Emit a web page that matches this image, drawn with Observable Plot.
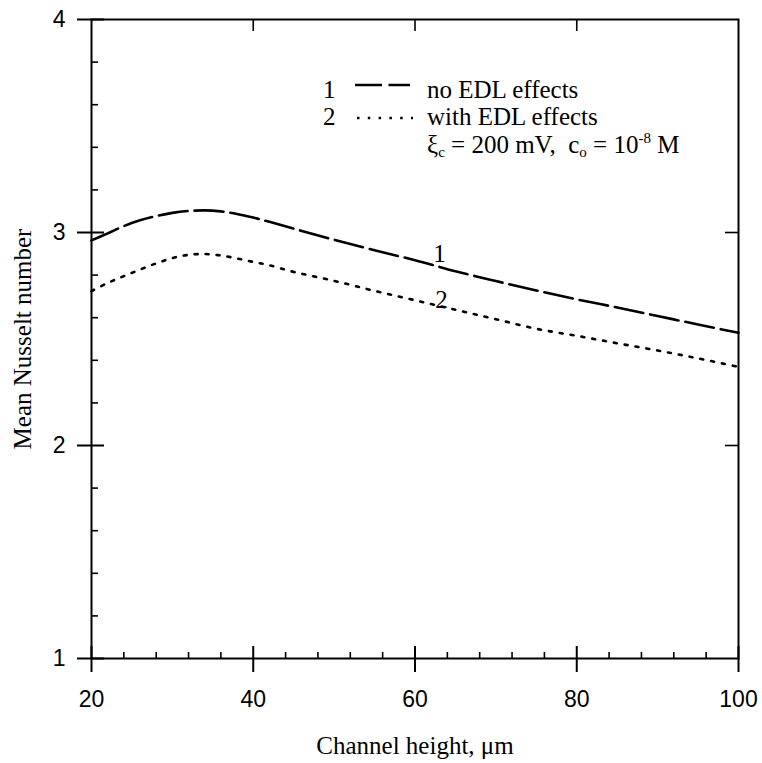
<!DOCTYPE html>
<html><head><meta charset="utf-8">
<script src="https://cdn.jsdelivr.net/npm/d3@7"></script>
<script src="https://cdn.jsdelivr.net/npm/@observablehq/plot@0.6"></script>
<style>
html,body{margin:0;padding:0;background:#fff;}
#wrap{position:relative;width:762px;height:763px;}
#legend{position:absolute;left:0;top:0;pointer-events:none;}
</style></head><body>
<div id="wrap"><div id="chart"></div></div>
<script>
// Channel height (µm)
const channelHeight = [20, 22, 24, 26, 28, 30, 32, 34, 36, 38, 40, 42, 45, 50, 55, 60, 65, 70, 75, 80, 85, 90, 95, 100];
// Curve 1: no EDL effects
const noEdl = [2.963, 2.996, 3.030, 3.057, 3.077, 3.092, 3.101, 3.104, 3.099, 3.087, 3.070, 3.050, 3.018, 2.966, 2.917, 2.870, 2.818, 2.772, 2.728, 2.686, 2.648, 2.608, 2.568, 2.529];
// Curve 2: with EDL effects
const withEdl = [2.725, 2.763, 2.795, 2.826, 2.855, 2.880, 2.895, 2.899, 2.892, 2.878, 2.862, 2.846, 2.815, 2.773, 2.726, 2.682, 2.637, 2.593, 2.548, 2.515, 2.480, 2.446, 2.409, 2.369];

const xMajorTicks = [20, 40, 60, 80, 100];
const xMinorTicks = [24, 28, 32, 36, 44, 48, 52, 56, 64, 68, 72, 76, 84, 88, 92, 96];
const xTopTicks = [40, 60, 80];
const yMajorTicks = [1, 2, 3, 4];
const yMinorTicks = [1.2, 1.4, 1.6, 1.8, 2.2, 2.4, 2.6, 2.8, 3.2, 3.4, 3.6, 3.8];
const yRightTicks = [2, 3];

const xLabel = "Channel height, \u03bcm";
const yLabel = "Mean Nusselt number";
const curveLabels = [{label: "1", series: noEdl, at: 65}, {label: "2", series: withEdl, at: 65}];

const W = 762, H = 763, mL = 91, mR = 24, mT = 19, mB = 105;
const innerW = W - mL - mR, innerH = H - mT - mB;
const sans = "'Liberation Sans', Arial, Helvetica, sans-serif";
const serif = "'Liberation Serif', 'Times New Roman', Times, serif";

const rows1 = channelHeight.map((h, i) => ({h, nu: noEdl[i]}));
const rows2 = channelHeight.map((h, i) => ({h, nu: withEdl[i]}));
const labelRows = curveLabels.map(c => ({label: c.label, h: c.at, nu: c.series[channelHeight.indexOf(c.at)]}));

const chart = Plot.plot({
  width: W, height: H,
  marginLeft: mL, marginRight: mR, marginTop: mT, marginBottom: mB,
  x: {domain: [20, 100]},
  y: {domain: [1, 4]},
  style: {background: "white", color: "black"},
  marks: [
    Plot.axisX(xMajorTicks, {tickSize: 14, tickPadding: 18, fontSize: 23, fontFamily: sans, strokeWidth: 2, label: null, tickFormat: d => String(d)}),
    Plot.axisY(yMajorTicks, {tickSize: 14, tickPadding: 12, fontSize: 23, fontFamily: sans, strokeWidth: 2, label: null, tickFormat: d => String(d)}),
    Plot.tickX(xMajorTicks, {x: d => d, insetTop: innerH - 12, strokeWidth: 2}),
    Plot.tickX(xMinorTicks, {x: d => d, insetTop: innerH - 6, strokeWidth: 1.6}),
    Plot.tickX(xTopTicks, {x: d => d, insetBottom: innerH - 12, strokeWidth: 1.6}),
    Plot.tickY(yMajorTicks, {y: d => d, insetRight: innerW - 13, strokeWidth: 2}),
    Plot.tickY(yMinorTicks, {y: d => d, insetRight: innerW - 7, strokeWidth: 1.6}),
    Plot.tickY(yRightTicks, {y: d => d, insetLeft: innerW - 13, strokeWidth: 1.6}),
    Plot.frame({stroke: "black", strokeWidth: 2}),
    Plot.line(rows1, {x: "h", y: "nu", curve: "catmull-rom", stroke: "black", strokeWidth: 2.6, strokeDasharray: "29,7"}),
    Plot.line(rows2, {x: "h", y: "nu", curve: "catmull-rom", stroke: "black", strokeWidth: 2.6, strokeDasharray: "3,8"}),
    Plot.text(labelRows.filter(d => d.label === "1"), {x: "h", y: "nu", text: "label", dx: -16, dy: -17, fontSize: 25, fontFamily: serif}),
    Plot.text(labelRows.filter(d => d.label === "2"), {x: "h", y: "nu", text: "label", dx: -14, dy: -10, fontSize: 25, fontFamily: serif}),
    Plot.text([xLabel], {text: d => d, frameAnchor: "bottom", textAnchor: "middle", lineAnchor: "middle", dy: 87, fontSize: 25, fontFamily: serif}),
    Plot.text([yLabel], {text: d => d, frameAnchor: "left", textAnchor: "middle", lineAnchor: "middle", rotate: -90, dx: -69, fontSize: 25, fontFamily: serif})
  ]
});
document.getElementById("chart").appendChild(chart);

// Legend (overlay)
const ns = "http://www.w3.org/2000/svg";
const leg = document.createElementNS(ns, "svg");
leg.setAttribute("id", "legend");
leg.setAttribute("width", W);
leg.setAttribute("height", H);
leg.innerHTML = `
<g font-family="${serif.replace(/"/g, "'")}" font-size="25" fill="black">
  <text x="323" y="98">1</text>
  <line x1="355" x2="410" y1="85" y2="85" stroke="black" stroke-width="2.4" stroke-dasharray="27,6.5"/>
  <text x="427" y="98">no EDL effects</text>
  <text x="323" y="125">2</text>
  <line x1="357" x2="413" y1="118" y2="118" stroke="black" stroke-width="2.4" stroke-dasharray="2.5,8.3"/>
  <text x="427" y="125">with EDL effects</text>
  <text x="427" y="153" xml:space="preserve">\u03be<tspan font-size="15" dy="4">c</tspan><tspan dy="-4"> = 200 mV,  c</tspan><tspan font-size="15" dy="4">o</tspan><tspan dy="-4"> = 10</tspan><tspan font-size="15" dy="-10">-8</tspan><tspan dy="10"> M</tspan></text>
</g>`;
document.getElementById("wrap").appendChild(leg);
</script>
</body></html>
